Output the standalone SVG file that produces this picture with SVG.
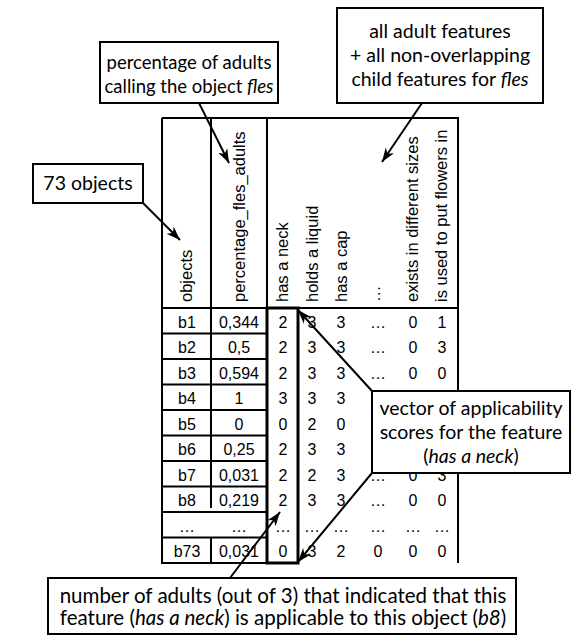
<svg xmlns="http://www.w3.org/2000/svg" width="571" height="636" viewBox="0 0 571 636">
<style>
.g{stroke:#000;stroke-width:2;fill:none}
.nk{stroke:#000;stroke-width:3;fill:none}
.hd{font-family:"Liberation Sans",Arial,sans-serif;font-size:16.5px;fill:#000}
.d{font-family:"Liberation Sans",Arial,sans-serif;font-size:16px;fill:#000;text-anchor:middle}
.bx{fill:#fff;stroke:#000;stroke-width:2}
.ct{font-family:Lato,"Noto Sans",sans-serif;font-size:19.5px;fill:#000;text-anchor:middle}
.ar{stroke:#000;stroke-width:2;fill:none;marker-end:url(#ah)}
</style>
<defs>
<marker id="ah" markerUnits="userSpaceOnUse" markerWidth="16" markerHeight="12" refX="14" refY="5" orient="auto" viewBox="0 0 16 10">
<path d="M0,0 L14,5 L0,10 L4,5 z" fill="#000"/>
</marker>
</defs>
<g id="table">
<path class="g" d="M162,118 H458 V563 M162,118 V563 H298 M162,308 H458 M211,118 V508 M211,537.5 V563 M267,118 V308"/>
<path class="g" d="M162,333.5 H267 M162,359 H267 M162,384.5 H267 M162,410 H267 M162,435.5 H267 M162,461 H267 M162,486.5 H267 M162,512 H267 M162,537.5 H267"/>
<rect id="neck-col" class="nk" x="267" y="308" width="31" height="255"/>
<g class="hd">
<text transform="translate(192,302) rotate(-90)">objects</text>
<text transform="translate(245,302) rotate(-90)">percentage_fles_adults</text>
<text transform="translate(288,302) rotate(-90)">has a neck</text>
<text transform="translate(318,302) rotate(-90)">holds a liquid</text>
<text transform="translate(347,302) rotate(-90)">has a cap</text>
<text transform="translate(380,302) rotate(-90)">…</text>
<text transform="translate(418,302) rotate(-90)">exists in different sizes</text>
<text transform="translate(447,302) rotate(-90)">is used to put flowers in</text>
</g>
<g class="d">
<text x="187" y="327.5">b1</text><text x="239" y="327.5">0,344</text><text x="283" y="327.5">2</text><text x="312" y="327.5">3</text><text x="341" y="327.5">3</text><text x="378" y="327.5">…</text><text x="413" y="327.5">0</text><text x="442" y="327.5">1</text>
<text x="187" y="353">b2</text><text x="239" y="353">0,5</text><text x="283" y="353">2</text><text x="312" y="353">3</text><text x="341" y="353">3</text><text x="378" y="353">…</text><text x="413" y="353">0</text><text x="442" y="353">3</text>
<text x="187" y="378.5">b3</text><text x="239" y="378.5">0,594</text><text x="283" y="378.5">2</text><text x="312" y="378.5">3</text><text x="341" y="378.5">3</text><text x="378" y="378.5">…</text><text x="413" y="378.5">0</text><text x="442" y="378.5">0</text>
<text x="187" y="404">b4</text><text x="239" y="404">1</text><text x="283" y="404">3</text><text x="312" y="404">3</text><text x="341" y="404">3</text>
<text x="187" y="429.5">b5</text><text x="239" y="429.5">0</text><text x="283" y="429.5">0</text><text x="312" y="429.5">2</text><text x="341" y="429.5">0</text>
<text x="187" y="455">b6</text><text x="239" y="455">0,25</text><text x="283" y="455">2</text><text x="312" y="455">3</text><text x="341" y="455">3</text>
<text x="187" y="480.5">b7</text><text x="239" y="480.5">0,031</text><text x="283" y="480.5">2</text><text x="312" y="480.5">2</text><text x="341" y="480.5">3</text><text x="378" y="480.5">…</text><text x="413" y="480.5">0</text><text x="442" y="480.5">3</text>
<text x="187" y="506">b8</text><text x="239" y="506">0,219</text><text x="283" y="506">2</text><text x="312" y="506">3</text><text x="341" y="506">3</text><text x="378" y="506">…</text><text x="413" y="506">0</text><text x="442" y="506">0</text>
<text x="187" y="531.5">…</text><text x="239" y="531.5">…</text><text x="283" y="531.5">…</text><text x="312" y="531.5">…</text><text x="341" y="531.5">…</text><text x="378" y="531.5">…</text><text x="413" y="531.5">…</text><text x="442" y="531.5">…</text>
<text x="187" y="557">b73</text><text x="239" y="557">0,031</text><text x="283" y="557">0</text><text x="312" y="557">3</text><text x="341" y="557">2</text><text x="378" y="557">0</text><text x="413" y="557">0</text><text x="442" y="557">0</text>
</g>
</g>
<g id="connectors">
<line class="ar" x1="199" y1="103" x2="229" y2="163"/>
<line class="ar" x1="422" y1="103" x2="382" y2="162"/>
<line class="ar" x1="143" y1="203" x2="180" y2="240"/>
<line class="ar" x1="372" y1="391" x2="298" y2="310"/>
<line class="ar" x1="372" y1="473" x2="298" y2="562"/>
<line class="ar" x1="230" y1="578" x2="280" y2="512"/>
</g>
<g id="box-percentage">
<rect class="bx" x="100" y="42" width="178" height="61"/>
<text class="ct" x="189" y="69" style="font-size:18.5px">percentage of adults</text>
<text class="ct" x="189" y="93" style="font-size:18.5px">calling the object <tspan font-style="italic">fles</tspan></text>
</g>
<g id="box-features">
<rect class="bx" x="337" y="8" width="206" height="95"/>
<text class="ct" x="440" y="38">all adult features</text>
<text class="ct" x="440" y="62">+ all non-overlapping</text>
<text class="ct" x="440" y="86">child features for <tspan font-style="italic">fles</tspan></text>
</g>
<g id="box-objects">
<rect class="bx" x="33" y="164" width="110" height="39"/>
<text class="ct" x="88" y="190">73 objects</text>
</g>
<g id="box-vector">
<rect class="bx" x="372" y="391" width="198" height="82"/>
<text class="ct" x="471" y="415">vector of applicability</text>
<text class="ct" x="471" y="439">scores for the feature</text>
<text class="ct" x="471" y="463">(<tspan font-style="italic">has a neck</tspan>)</text>
</g>
<g id="box-adults">
<rect class="bx" x="48" y="578" width="468" height="56"/>
<text class="ct" x="283" y="603" style="font-size:20.5px">number of adults (out of 3) that indicated that this</text>
<text class="ct" x="283" y="625" style="font-size:20.5px">feature (<tspan font-style="italic">has a neck</tspan>) is applicable to this object (<tspan font-style="italic">b8</tspan>)</text>
</g>
</svg>
